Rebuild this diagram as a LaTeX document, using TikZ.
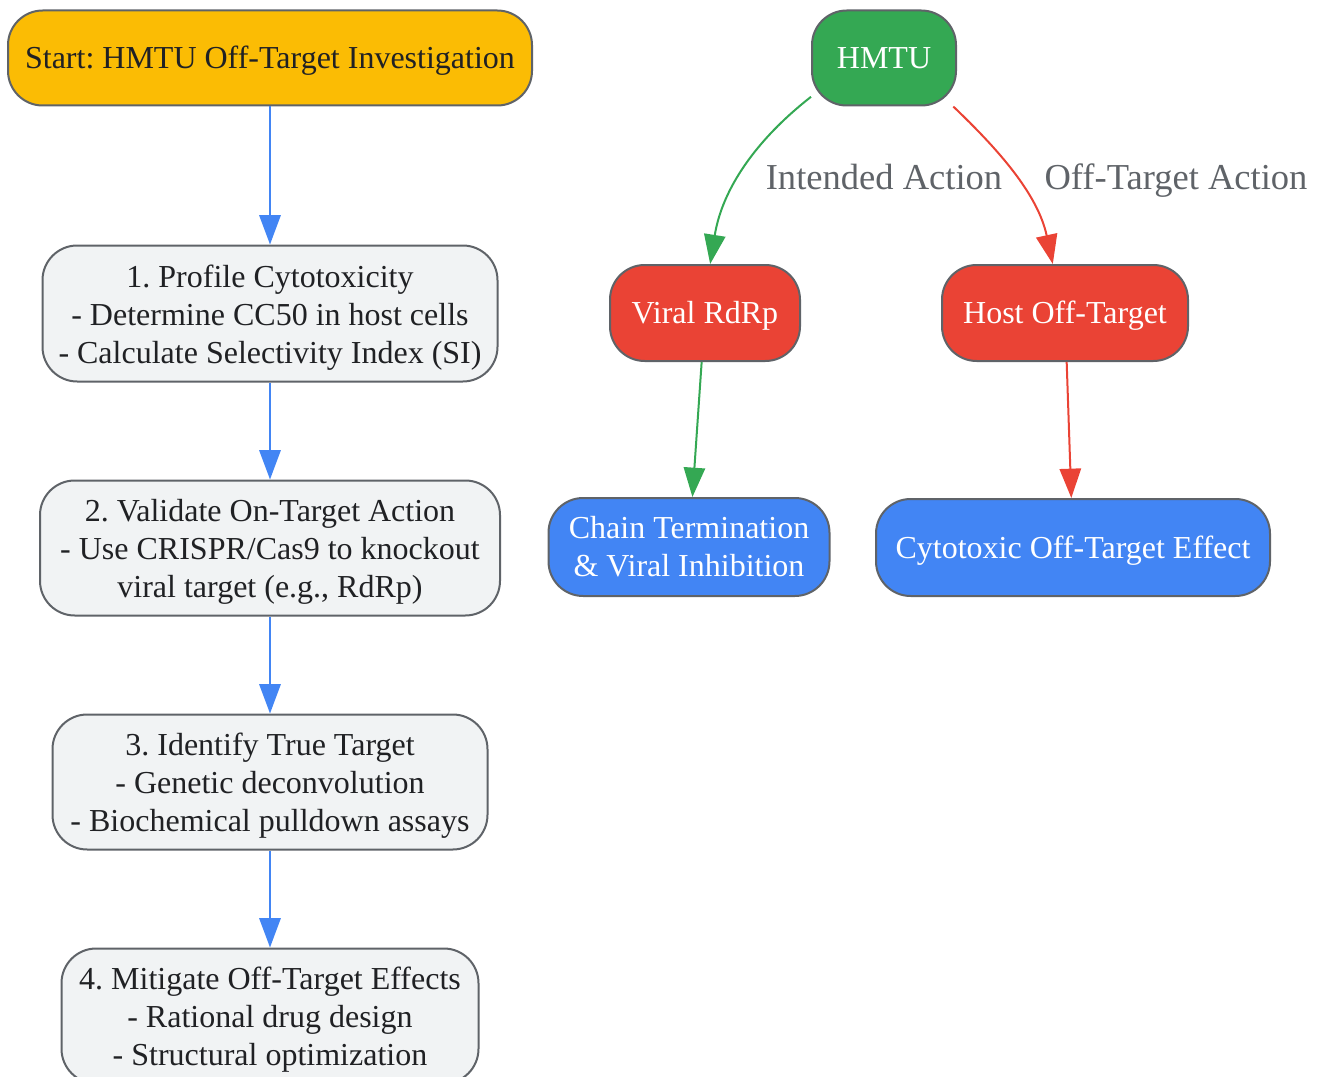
\documentclass[tikz,border=0pt]{standalone}
\usepackage{fontspec}
\setmainfont{Liberation Serif}
\frenchspacing
\usetikzlibrary{positioning}
\usetikzlibrary{arrows.meta}
\definecolor{framegray}{HTML}{5F6368}
\definecolor{stepfill}{HTML}{F1F3F4}
\definecolor{startfill}{HTML}{FBBC04}
\definecolor{drugfill}{HTML}{34A853}
\definecolor{hitfill}{HTML}{EA4335}
\definecolor{effectfill}{HTML}{4285F4}
\definecolor{inktext}{HTML}{202124}
\newcommand{\tallline}{\rule{0pt}{23pt}}
\tikzset{%
  myedge/.style={->, line width=1.5pt, >={Triangle[length=22pt,width=16pt]}},
  flowedge/.style={myedge, draw=effectfill},
  okedge/.style={myedge, draw=drugfill},
  offedge/.style={myedge, draw=hitfill},
  mynode/.style={rectangle, rounded corners=26pt, draw=framegray, line width=1.5pt,
    align=center, inner xsep=8pt, inner ysep=4pt,
    font=\fontsize{24}{28.5}\selectfont},
  oneline/.style={text height=21.5pt, text depth=5.2pt},
  stepbox/.style={mynode, fill=stepfill, text=inktext},
  startbox/.style={mynode, oneline, fill=startfill, text=inktext},
  drugbox/.style={mynode, oneline, fill=drugfill, text=white},
  hitbox/.style={mynode, oneline, fill=hitfill, text=white},
  effectbox/.style={mynode, fill=effectfill, text=white},
  edgelabel/.style={text=framegray, inner sep=0pt, font=\fontsize{27.4}{32}\selectfont}
}

\begin{document}
\begin{tikzpicture}[x=0.75pt, y=-0.75pt]
  \useasboundingbox (0,0) rectangle (1321,1077);
  % investigation steps
  \node[startbox, minimum width=393pt, minimum height=71.25pt] (start) at (270,58) {Start: HMTU Off-Target Investigation};
  \node[stepbox, minimum width=341.25pt, minimum height=102pt, below=103.5pt of start] (s1)
    {\tallline 1. Profile Cytotoxicity\\- Determine CC50 in host cells\\- Calculate Selectivity Index (SI)};
  \node[stepbox, minimum width=345pt, minimum height=101.25pt, below=72.75pt of s1] (s2)
    {\tallline 2. Validate On-Target Action\\- Use CRISPR/Cas9 to knockout\\viral target (e.g., RdRp)};
  \node[stepbox, minimum width=326.25pt, minimum height=101.25pt, below=72.75pt of s2] (s3)
    {\tallline 3. Identify True Target\\- Genetic deconvolution\\- Biochemical pulldown assays};
  \node[stepbox, minimum width=312.75pt, minimum height=101.25pt, below=72.75pt of s3] (s4)
    {\tallline 4. Mitigate Off-Target Effects\\- Rational drug design\\- Structural optimization};
  \draw [flowedge] (start) -- (s1);
  \draw [flowedge] (s1) -- (s2);
  \draw [flowedge] (s2) -- (s3);
  \draw [flowedge] (s3) -- (s4);
  % mechanism
  \node[drugbox, minimum width=108pt, minimum height=71.25pt] (hmtu) at (884,58) {HMTU};
  \node[hitbox, minimum width=142.5pt, minimum height=72pt] (viral) at (705,313) {Viral RdRp};
  \node[hitbox, minimum width=184.5pt, minimum height=72pt] (host) at (1065,313) {Host Off-Target};
  \node[effectbox, minimum width=210.75pt, minimum height=73.5pt] (chain) at (689,547) {Chain Termination\\\& Viral Inhibition};
  \node[effectbox, oneline, minimum width=295.5pt, minimum height=72.75pt] (cyto) at (1073,547.5) {Cytotoxic Off-Target Effect};
  \draw [okedge] (hmtu.208) .. controls +(-55,43) and +(12,-75) .. (viral.84);
  \draw [offedge] (hmtu.325) .. controls +(45,43) and +(-15,-70) .. (host.104);
  \node[edgelabel] (lint) at (884,177) {Intended Action};
  \node[edgelabel] (loff) at (1176,181) {Off-Target Action};
  \draw [okedge] (viral) -- (chain);
  \draw [offedge] (host) -- (cyto);
\end{tikzpicture}
\end{document}
